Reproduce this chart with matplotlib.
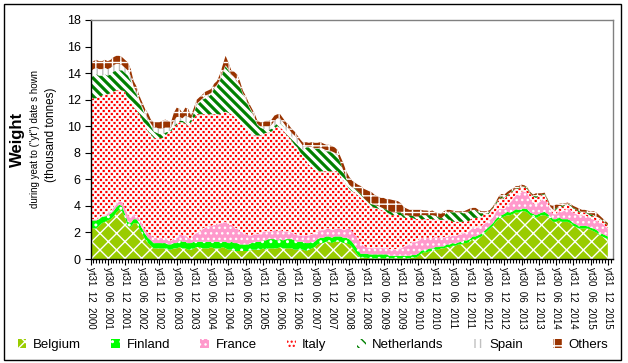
import numpy as np
import matplotlib
matplotlib.use("Agg")
import matplotlib.pyplot as plt
from matplotlib.patches import Rectangle
from matplotlib.path import Path
from matplotlib.collections import LineCollection
from matplotlib.transforms import IdentityTransform
from matplotlib.ticker import MultipleLocator

# ---------------- data (monthly, Dec 2000 .. Dec 2015), thousand tonnes ----------------
tick_labels = [
    "yt31  12  2000", "yt30  06  2001", "yt31  12  2001", "yt30  06  2002", "yt31  12  2002",
    "yt30  06  2003", "yt31  12  2003", "yt30  06  2004", "yt31  12  2004", "yt30  06  2005",
    "yt31  12  2005", "yt30  06  2006", "yt31  12  2006", "yt30  06  2007", "yt31  12  2007",
    "yt30  06  2008", "yt31  12  2008", "yt30  06  2009", "yt31  12  2009", "yt30  06  2010",
    "yt31  12  2010", "yt30  06  2011", "yt31  12  2011", "yt30  06  2012", "yt31  12  2012",
    "yt30  06  2013", "yt31  12  2013", "yt30  06  2014", "yt31  12  2014", "yt30  06  2015",
    "yt31  12  2015",
]

series_names = ["Belgium", "Finland", "France", "Italy", "Netherlands", "Spain", "Others"]

belgium = [
    2.4, 2.3, 2.3, 2.5, 2.7, 2.8, 2.9, 3.0, 3.2, 3.5, 3.7, 3.6,
    3.1, 2.5, 2.4, 2.7, 2.7, 2.3, 1.9, 1.5, 1.2, 1.0, 0.8, 0.8,
    0.8, 0.8, 0.8, 0.7, 0.7, 0.8, 0.8, 0.9, 0.8, 0.8, 0.7, 0.7,
    0.8, 0.9, 0.9, 0.8, 0.8, 0.8, 0.9, 0.8, 0.8, 0.8, 0.9, 0.8,
    0.7, 0.7, 0.6, 0.6, 0.6, 0.6, 0.6, 0.6, 0.7, 0.7, 0.7, 0.7,
    0.8, 0.7, 0.8, 0.8, 0.8, 0.8, 0.9, 0.8, 0.8, 0.8, 0.8, 0.7,
    0.7, 0.7, 0.7, 0.6, 0.7, 0.8, 0.9, 1.1, 1.2, 1.2, 1.3, 1.3,
    1.2, 1.3, 1.3, 1.3, 1.2, 1.2, 1.1, 0.9, 0.6, 0.3, 0.1, 0.1,
    0.1, 0.05, 0.05, 0.05, 0.05, 0.05, 0.05, 0.05, 0.05, 0.05, 0.05, 0.05,
    0.05, 0.05, 0.05, 0.05, 0.1, 0.1, 0.2, 0.4, 0.5, 0.5, 0.6, 0.6,
    0.7, 0.7, 0.8, 0.8, 0.9, 0.9, 1.0, 1.0, 1.1, 1.1, 1.2, 1.2,
    1.3, 1.5, 1.5, 1.6, 1.7, 1.9, 2.1, 2.3, 2.5, 2.8, 3.0, 3.1,
    3.2, 3.3, 3.3, 3.4, 3.5, 3.5, 3.6, 3.6, 3.5, 3.3, 3.2, 3.1,
    3.2, 3.3, 3.3, 3.2, 3.0, 2.8, 2.8, 2.9, 2.8, 2.8, 2.8, 2.7,
    2.5, 2.4, 2.3, 2.3, 2.3, 2.3, 2.2, 2.1, 2.0, 1.8, 1.7, 1.6,
    1.5,
]

finland = [
    0.5, 0.6, 0.6, 0.5, 0.5, 0.4, 0.4, 0.4, 0.4, 0.4, 0.4, 0.4,
    0.3, 0.3, 0.3, 0.3, 0.3, 0.4, 0.4, 0.4, 0.4, 0.4, 0.4, 0.4,
    0.4, 0.4, 0.4, 0.4, 0.4, 0.4, 0.4, 0.5, 0.5, 0.5, 0.5, 0.5,
    0.5, 0.4, 0.4, 0.5, 0.5, 0.5, 0.4, 0.5, 0.5, 0.5, 0.4, 0.5,
    0.5, 0.6, 0.6, 0.6, 0.5, 0.5, 0.5, 0.5, 0.5, 0.6, 0.6, 0.6,
    0.6, 0.7, 0.7, 0.7, 0.7, 0.6, 0.6, 0.6, 0.7, 0.7, 0.7, 0.7,
    0.6, 0.6, 0.6, 0.6, 0.5, 0.5, 0.4, 0.4, 0.4, 0.4, 0.4, 0.4,
    0.4, 0.4, 0.4, 0.4, 0.4, 0.4, 0.4, 0.4, 0.4, 0.4, 0.3, 0.3,
    0.3, 0.3, 0.3, 0.3, 0.3, 0.3, 0.3, 0.3, 0.2, 0.2, 0.2, 0.2,
    0.2, 0.2, 0.2, 0.2, 0.2, 0.2, 0.2, 0.2, 0.2, 0.2, 0.2, 0.2,
    0.2, 0.2, 0.15, 0.15, 0.2, 0.2, 0.2, 0.15, 0.15, 0.2, 0.2, 0.2,
    0.2, 0.2, 0.2, 0.2, 0.2, 0.2, 0.2, 0.2, 0.2, 0.2, 0.2, 0.2,
    0.2, 0.25, 0.2, 0.2, 0.25, 0.2, 0.2, 0.2, 0.25, 0.2, 0.2, 0.2,
    0.2, 0.2, 0.25, 0.2, 0.2, 0.2, 0.2, 0.25, 0.2, 0.2, 0.2, 0.2,
    0.2, 0.2, 0.2, 0.2, 0.2, 0.2, 0.15, 0.2, 0.2, 0.2, 0.2, 0.2,
    0.2,
]

france = [
    0.1, 0.1, 0.1, 0.1, 0.1, 0.1, 0.2, 0.2, 0.3, 0.3, 0.3, 0.3,
    0.4, 0.5, 0.5, 0.4, 0.3, 0.3, 0.3, 0.3, 0.3, 0.4, 0.4, 0.4,
    0.4, 0.4, 0.4, 0.3, 0.3, 0.4, 0.4, 0.5, 0.5, 0.5, 0.4, 0.4,
    0.6, 0.7, 0.8, 1.0, 1.1, 1.2, 1.2, 1.3, 1.3, 1.4, 1.5, 1.5,
    1.4, 1.3, 1.2, 1.1, 1.0, 0.9, 0.8, 0.7, 0.6, 0.6, 0.6, 0.6,
    0.7, 0.7, 0.6, 0.6, 0.7, 0.7, 0.7, 0.7, 0.6, 0.6, 0.5, 0.5,
    0.5, 0.5, 0.5, 0.6, 0.6, 0.6, 0.6, 0.6, 0.6, 0.6, 0.6, 0.6,
    0.6, 0.6, 0.6, 0.6, 0.6, 0.7, 0.8, 0.8, 0.8, 0.9, 0.8, 0.6,
    0.5, 0.5, 0.5, 0.5, 0.5, 0.5, 0.5, 0.5, 0.5, 0.5, 0.5, 0.5,
    0.6, 0.7, 0.8, 0.9, 1.0, 1.0, 1.0, 1.0, 0.9, 0.9, 0.8, 0.8,
    0.8, 0.7, 0.7, 0.7, 0.6, 0.6, 0.6, 0.6, 0.6, 0.6, 0.6, 0.6,
    0.7, 0.7, 0.7, 0.6, 0.6, 0.6, 0.5, 0.5, 0.5, 0.6, 0.6, 0.5,
    0.4, 0.6, 0.8, 1.0, 1.1, 1.2, 1.3, 1.3, 1.2, 1.0, 0.8, 0.8,
    0.9, 1.0, 1.0, 0.8, 0.5, 0.4, 0.4, 0.5, 0.6, 0.7, 0.8, 0.8,
    0.8, 0.8, 0.8, 0.8, 0.8, 0.7, 0.7, 0.7, 0.7, 0.8, 0.8, 0.7,
    0.6,
]

italy = [
    9.0, 9.1, 9.1, 9.1, 9.0, 9.1, 8.9, 8.9, 8.7, 8.5, 8.3, 8.4,
    8.8, 8.7, 8.6, 8.0, 7.9, 7.9, 7.9, 7.8, 7.7, 7.6, 7.5, 7.5,
    7.5, 7.5, 7.7, 8.1, 8.2, 8.3, 8.5, 8.4, 8.5, 8.4, 8.4, 8.7,
    8.7, 8.9, 8.8, 8.6, 8.5, 8.4, 8.4, 8.3, 8.3, 8.2, 8.2, 8.3,
    8.4, 8.3, 8.3, 8.2, 8.2, 8.0, 7.9, 7.9, 7.7, 7.4, 7.4, 7.4,
    7.3, 7.4, 7.4, 7.5, 7.6, 7.9, 7.7, 7.6, 7.3, 7.1, 6.9, 6.7,
    6.6, 6.2, 5.9, 5.6, 5.3, 5.0, 4.8, 4.5, 4.4, 4.4, 4.3, 4.3,
    4.4, 4.3, 4.3, 3.9, 3.7, 3.3, 3.0, 3.0, 3.2, 3.2, 3.4, 3.4,
    3.3, 3.15, 3.05, 3.0, 2.95, 2.85, 2.75, 2.65, 2.65, 2.55, 2.55, 2.55,
    2.45, 2.15, 2.05, 1.95, 1.8, 1.7, 1.6, 1.4, 1.4, 1.4, 1.4, 1.4,
    1.25, 1.35, 1.3, 1.3, 1.25, 1.25, 1.0, 1.05, 0.95, 0.9, 0.8, 0.8,
    0.7, 0.7, 0.7, 0.7, 0.7, 0.7, 0.5, 0.5, 0.6, 0.5, 0.6, 0.8,
    0.7, 0.6, 0.6, 0.5, 0.4, 0.4, 0.3, 0.3, 0.3, 0.4, 0.5, 0.5,
    0.4, 0.3, 0.3, 0.2, 0.2, 0.2, 0.3, 0.3, 0.3, 0.3, 0.3, 0.3,
    0.3, 0.3, 0.2, 0.2, 0.2, 0.2, 0.2, 0.2, 0.2, 0.2, 0.2, 0.2,
    0.2,
]

netherlands = [
    1.6, 1.7, 1.8, 1.6, 1.5, 1.5, 1.4, 1.4, 1.5, 1.5, 1.5, 1.5,
    1.4, 1.8, 1.6, 1.3, 1.2, 0.9, 0.8, 0.8, 0.8, 0.6, 0.5, 0.4,
    0.3, 0.3, 0.2, 0.1, 0.1, 0.1, 0.1, 0.1, 0.1, 0.1, 0.2, 0.2,
    0.4, 0.7, 0.9, 1.1, 1.2, 1.3, 1.5, 1.9, 2.1, 2.5, 3.0, 3.4,
    3.2, 2.9, 2.9, 2.8, 2.7, 2.4, 2.2, 1.8, 1.6, 1.3, 0.8, 0.6,
    0.4, 0.3, 0.2, 0.2, 0.2, 0.2, 0.3, 0.3, 0.3, 0.3, 0.3, 0.3,
    0.3, 0.4, 0.5, 1.0, 1.3, 1.5, 1.6, 1.7, 1.7, 1.6, 1.5, 1.5,
    1.4, 1.3, 1.2, 1.0, 0.7, 0.4, 0.3, 0.3, 0.3, 0.3, 0.3, 0.2,
    0.2, 0.2, 0.2, 0.2, 0.2, 0.2, 0.2, 0.2, 0.2, 0.2, 0.2, 0.2,
    0.2, 0.2, 0.2, 0.15, 0.15, 0.2, 0.2, 0.3, 0.3, 0.3, 0.3, 0.3,
    0.3, 0.2, 0.1, 0.3, 0.5, 0.6, 0.7, 0.7, 0.7, 0.7, 0.6, 0.7,
    0.7, 0.6, 0.6, 0.4, 0.2, 0.1, 0.1, 0.05, 0.05, 0.1, 0.1, 0.1,
    0.1, 0.1, 0.1, 0.05, 0.05, 0.05, 0.05, 0.05, 0.05, 0.05, 0.05, 0.1,
    0.05, 0.05, 0.05, 0.05, 0.05, 0.1, 0.1, 0.05, 0.1, 0.05, 0.05, 0.05,
    0.05, 0.05, 0.1, 0.05, 0.05, 0.05, 0.1, 0.1, 0.1, 0.1, 0.05, 0.05,
    0.05,
]

spain = [
    0.5, 0.5, 0.5, 0.5, 0.5, 0.5, 0.5, 0.5, 0.5, 0.5, 0.5, 0.4,
    0.4, 0.4, 0.4, 0.3, 0.2, 0.2, 0.2, 0.2, 0.2, 0.2, 0.3, 0.4,
    0.4, 0.4, 0.4, 0.3, 0.2, 0.4, 0.5, 0.3, 0.2, 0.5, 0.5, 0.1,
    0.1, 0.1, 0.1, 0.1, 0.2, 0.2, 0.1, 0.1, 0.1, 0.1, 0.1, 0.1,
    0.1, 0.1, 0.1, 0.1, 0.1, 0.1, 0.1, 0.1, 0.1, 0.1, 0.1, 0.1,
    0.2, 0.2, 0.3, 0.3, 0.4, 0.4, 0.4, 0.3, 0.3, 0.3, 0.3, 0.4,
    0.4, 0.4, 0.3, 0.1, 0.05, 0.05, 0.05, 0.05, 0.1, 0.1, 0.1, 0.1,
    0.1, 0.1, 0.05, 0.05, 0.05, 0.0, 0.0, 0.0, 0.0, 0.0, 0.0, 0.0,
    0.0, 0.0, 0.0, 0.0, 0.0, 0.0, 0.0, 0.0, 0.0, 0.0, 0.0, 0.0,
    0.0, 0.0, 0.0, 0.0, 0.0, 0.0, 0.0, 0.0, 0.0, 0.0, 0.0, 0.0,
    0.0, 0.0, 0.0, 0.0, 0.0, 0.0, 0.0, 0.0, 0.0, 0.0, 0.0, 0.0,
    0.0, 0.0, 0.0, 0.0, 0.0, 0.0, 0.0, 0.0, 0.0, 0.0, 0.0, 0.0,
    0.0, 0.0, 0.0, 0.0, 0.0, 0.0, 0.0, 0.0, 0.0, 0.0, 0.0, 0.0,
    0.0, 0.0, 0.0, 0.0, 0.0, 0.0, 0.0, 0.0, 0.0, 0.0, 0.0, 0.0,
    0.0, 0.0, 0.0, 0.0, 0.0, 0.0, 0.0, 0.0, 0.0, 0.0, 0.0, 0.0,
    0.0,
]

others = [
    0.6, 0.6, 0.6, 0.6, 0.6, 0.6, 0.6, 0.6, 0.6, 0.6, 0.6, 0.6,
    0.6, 0.6, 0.5, 0.4, 0.4, 0.3, 0.3, 0.3, 0.4, 0.3, 0.4, 0.4,
    0.5, 0.6, 0.6, 0.5, 0.4, 0.6, 0.7, 0.6, 0.4, 0.6, 0.6, 0.2,
    0.3, 0.3, 0.3, 0.3, 0.3, 0.3, 0.3, 0.3, 0.3, 0.4, 0.5, 0.7,
    0.5, 0.3, 0.4, 0.5, 0.3, 0.2, 0.2, 0.2, 0.2, 0.3, 0.25, 0.3,
    0.3, 0.4, 0.4, 0.4, 0.4, 0.3, 0.3, 0.3, 0.3, 0.3, 0.3, 0.3,
    0.2, 0.2, 0.25, 0.3, 0.3, 0.35, 0.4, 0.4, 0.4, 0.4, 0.4, 0.4,
    0.4, 0.4, 0.35, 0.45, 0.55, 0.6, 0.6, 0.5, 0.45, 0.5, 0.6, 0.7,
    0.8, 0.9, 0.9, 0.75, 0.7, 0.7, 0.8, 0.8, 0.9, 0.95, 0.9, 0.85,
    0.7, 0.6, 0.5, 0.45, 0.45, 0.5, 0.5, 0.4, 0.35, 0.35, 0.3, 0.35,
    0.25, 0.3, 0.35, 0.35, 0.25, 0.15, 0.15, 0.1, 0.1, 0.1, 0.2, 0.2,
    0.2, 0.15, 0.15, 0.2, 0.2, 0.1, 0.2, 0.15, 0.1, 0.1, 0.2, 0.2,
    0.25, 0.2, 0.2, 0.15, 0.2, 0.15, 0.15, 0.1, 0.1, 0.1, 0.1, 0.25,
    0.2, 0.1, 0.1, 0.1, 0.1, 0.3, 0.3, 0.15, 0.2, 0.15, 0.1, 0.1,
    0.15, 0.15, 0.2, 0.15, 0.15, 0.2, 0.2, 0.3, 0.3, 0.2, 0.15, 0.15,
    0.15,
]

# ---------------- styling ----------------
face_colors = ["#99CC00", "#00FF00", "#FF99CC", "#FFFFFF", "#FFFFFF", "#FFFFFF", "#993300"]
hatch_colors = ["#FFFFFF", "#FFFFFF", "#FFFFFF", "#FF0000", "#008000", "#C0C0C0", "#FFFFFF"]
hatches = ["xx", "..", "...", None, None, "|||", "++"]
legend_hatches = ["xx", "..", "...", "....", "\\\\\\", "|||", "++"]
NL_GREEN = "#008000"
IT_RED = "#FF0000"

plt.rcParams["font.family"] = ["Liberation Sans", "DejaVu Sans"]
plt.rcParams["hatch.linewidth"] = 1.0
plt.rcParams["lines.scale_dashes"] = False

W, H, DPI = 628, 363, 100
PT = 72.0 / DPI  # points per pixel
fig = plt.figure(figsize=(W / DPI, H / DPI), dpi=DPI)
fig.patch.set_facecolor("white")
ax = fig.add_axes([90.5 / W, 1 - 259 / H, (613 - 90.5) / W, (259 - 20) / H])

data = [belgium, finland, france, italy, netherlands, spain, others]
x = np.arange(len(belgium))
base = np.zeros(len(x))
colls = {}
for name, vals, fc, hc, h in zip(series_names, data, face_colors, hatch_colors, hatches):
    top = base + np.asarray(vals, dtype=float)
    coll = ax.fill_between(x, base, top, facecolor=fc, edgecolor=hc, hatch=h,
                           linewidth=0, label=name)
    colls[name] = coll
    base = top

ax.set_xlim(0, 181.8)
ax.set_ylim(0, 18)


def clip_to(artist, name):
    path = Path.make_compound_path(*colls[name].get_paths())
    ax.add_collection(artist, autolim=False)
    artist.set_clip_path(path, ax.transData)


# Netherlands: bold diagonal stripes clipped to its band
offsets = np.arange(-H, W + 10, 9.0)
stripes = LineCollection([[(c, H), (c + H, 0)] for c in offsets], colors=NL_GREEN,
                         linewidths=2.3, transform=IdentityTransform())
clip_to(stripes, "Netherlands")

# Italy: staggered small red squares clipped to its band
row_step, sq, period = 3.0, 2.2, 5.4
rows = np.arange(0.0, H, row_step)
dot_styles = [((0.0 if i % 2 == 0 else period / 2) * PT, (sq * PT, (period - sq) * PT))
              for i in range(len(rows))]
dots = LineCollection([[(0, r), (W, r)] for r in rows], colors=IT_RED,
                      linewidths=sq * PT, linestyles=dot_styles,
                      transform=IdentityTransform(), capstyle="butt")
clip_to(dots, "Italy")

ax.yaxis.set_major_locator(MultipleLocator(2))
ax.set_xticks(np.arange(0, 181, 6))
ax.set_xticklabels(tick_labels, rotation=270, fontsize=7, va="top", ha="center")
ax.xaxis.set_minor_locator(MultipleLocator(1))
ax.tick_params(axis="x", which="major", direction="out", length=4, width=0.8, pad=2)
ax.tick_params(axis="x", which="minor", direction="out", length=3, width=0.8)
ax.tick_params(axis="y", which="major", direction="out", length=4, width=0.8, pad=3, labelsize=9)

for s in ["left", "bottom"]:
    ax.spines[s].set_color("black")
    ax.spines[s].set_linewidth(1.0)
for s in ["top", "right"]:
    ax.spines[s].set_color("#808080")
    ax.spines[s].set_linewidth(1.0)

# y-axis titles
fig.text(17.5 / W, 1 - 139 / H, "Weight", rotation=90, fontsize=12, fontweight="bold",
         ha="center", va="center")
fig.text(35.5 / W, 1 - 138.5 / H, "during yeat to (\"yt\") date s hown", rotation=90,
         fontsize=7, ha="center", va="center")
fig.text(51 / W, 1 - 135 / H, "(thousand tonnes)", rotation=90, fontsize=8.4,
         ha="center", va="center")

leg = fig.legend(loc="center", bbox_to_anchor=(313 / W, 1 - 345 / H), ncol=7,
                 frameon=False, fontsize=9.5, handlelength=0.65, handleheight=0.65,
                 handletextpad=0.5, columnspacing=2.3, borderpad=0)
for handle, lh, hc in zip(leg.legend_handles, legend_hatches, hatch_colors):
    handle.set_hatch(lh)
    handle.set_edgecolor(hc)
    handle.set_linewidth(0)

fig.patches.append(Rectangle((4 / W, 1 - 360 / H), 617 / W, 356 / H,
                             transform=fig.transFigure, fill=False,
                             edgecolor="black", linewidth=1.0))

fig.savefig("out.png", dpi=DPI)
